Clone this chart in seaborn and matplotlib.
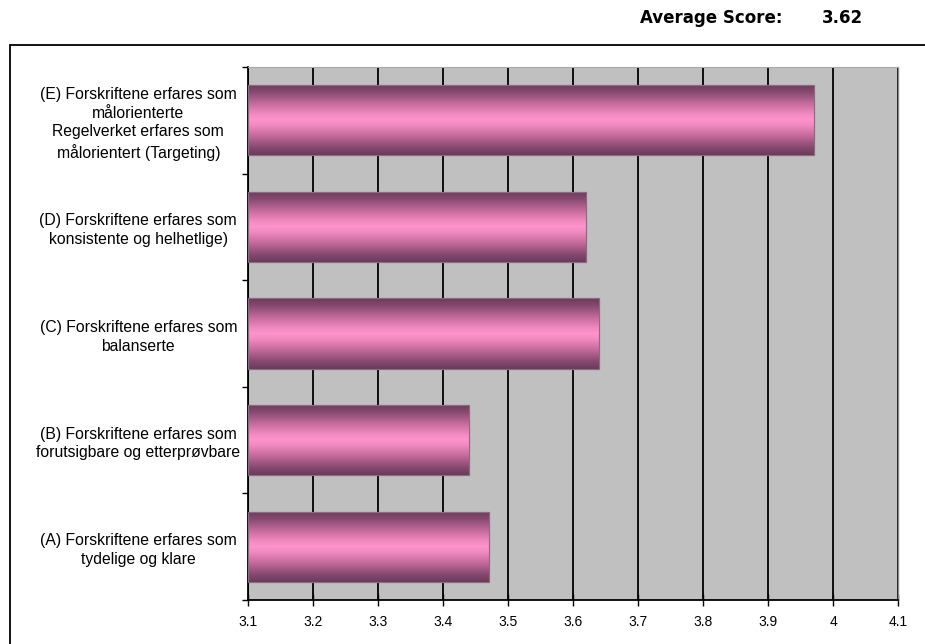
import numpy as np
import pandas as pd
import matplotlib
matplotlib.use("Agg")
import matplotlib.pyplot as plt
import seaborn as sns
from matplotlib.colors import LinearSegmentedColormap
from matplotlib.patches import Rectangle

categories = [
    "(E) Forskriftene erfares som\nmålorienterte\nRegelverket erfares som\nmålorientert (Targeting)",
    "(D) Forskriftene erfares som\nkonsistente og helhetlige)",
    "(C) Forskriftene erfares som\nbalanserte",
    "(B) Forskriftene erfares som\nforutsigbare og etterprøvbare",
    "(A) Forskriftene erfares som\ntydelige og klare",
]
scores = [3.97, 3.62, 3.64, 3.44, 3.47]
x_ticks = [3.1, 3.2, 3.3, 3.4, 3.5, 3.6, 3.7, 3.8, 3.9, 4.0, 4.1]
x_tick_labels = ["3.1", "3.2", "3.3", "3.4", "3.5", "3.6", "3.7", "3.8", "3.9", "4", "4.1"]
average_label = "Average Score:"
average_value = "3.62"

sns.set_theme(style="white")
plt.rcParams["font.family"] = ["Liberation Sans", "DejaVu Sans"]

df = pd.DataFrame({"category": categories, "score": scores})

fig = plt.figure(figsize=(9.25, 6.44), dpi=100)
ax = fig.add_axes([248 / 925, 1 - 600 / 644, 650 / 925, 533 / 644])
ax.set_facecolor("#c0c0c0")

sns.barplot(data=df, x="score", y="category", orient="h", ax=ax,
            color="#ff8fcb", width=0.66, edgecolor="#8c6a80", linewidth=0.8,
            zorder=2)

ax.set_xlim(3.1, 4.1)
ax.set_ylim(4.5, -0.5)

# shaded cylinder look: dark rim, bright pink core
cmap = LinearSegmentedColormap.from_list(
    "rod",
    [(0.0, "#6a3a5a"), (0.12, "#8a4c72"), (0.28, "#c86c9e"),
     (0.42, "#f08abf"), (0.5, "#ff93cc"), (0.58, "#f08abf"),
     (0.72, "#c86c9e"), (0.88, "#8a4c72"), (1.0, "#6a3a5a")])
grad = np.linspace(0, 1, 256).reshape(-1, 1)
x0 = ax.get_xlim()[0]
for patch in list(ax.patches):
    bx, by = patch.get_x(), patch.get_y()
    bw, bh = patch.get_width(), patch.get_height()
    im = ax.imshow(grad, cmap=cmap, aspect="auto", interpolation="bilinear",
                   extent=(max(bx, x0), bx + bw, by + bh, by), zorder=2.5)
    im.set_clip_path(patch)
    outline = Rectangle((max(bx, x0), by), bx + bw - max(bx, x0), bh,
                        fill=False, edgecolor="#8c6a80", linewidth=0.8,
                        zorder=3)
    ax.add_patch(outline)
ax.set_xlim(3.1, 4.1)
ax.set_ylim(4.5, -0.5)

# axes, grid and ticks
ax.set_xticks(x_ticks)
ax.set_xticklabels(x_tick_labels, fontsize=10)
ax.set_yticks(range(len(categories)))
ax.set_yticklabels(categories, fontsize=11.3, linespacing=1.3)
for lbl in ax.get_yticklabels():
    lbl.set_horizontalalignment("center")
    lbl.set_multialignment("center")
ax.set_yticks(np.arange(-0.5, len(categories), 1.0), minor=True)
ax.tick_params(axis="y", which="major", length=0, pad=79, colors="black")
ax.tick_params(axis="y", which="minor", length=4, width=1, direction="out",
               color="black", left=True)
ax.tick_params(axis="x", which="major", length=8, width=1, direction="inout",
               color="black", bottom=True, pad=7, labelcolor="black")
ax.xaxis.grid(True, color="black", linewidth=1.3, zorder=1)
ax.yaxis.grid(False)
ax.set_axisbelow(True)
ax.set_xlabel("")
ax.set_ylabel("")

ax.spines["left"].set_color("black")
ax.spines["left"].set_linewidth(1.3)
ax.spines["bottom"].set_color("black")
ax.spines["bottom"].set_linewidth(1.3)
ax.spines["right"].set_color("#8a8a8a")
ax.spines["right"].set_linewidth(1.0)
ax.spines["top"].set_color("#a8a8a8")
ax.spines["top"].set_linewidth(0.8)

# outer chart frame
frame = Rectangle((10 / 925, -0.05), 1.0, 1 - 45 / 644 + 0.05,
                  transform=fig.transFigure, fill=False,
                  edgecolor="black", linewidth=1.3, clip_on=False)
fig.add_artist(frame)

fig.text(640 / 925, 1 - 18 / 644, average_label, fontsize=12,
         fontweight="bold", family="DejaVu Sans", color="black",
         ha="left", va="center")
fig.text(822 / 925, 1 - 18 / 644, average_value, fontsize=12,
         fontweight="bold", family="DejaVu Sans", color="black",
         ha="left", va="center")

fig.savefig("out.png", dpi=100, facecolor="white")
